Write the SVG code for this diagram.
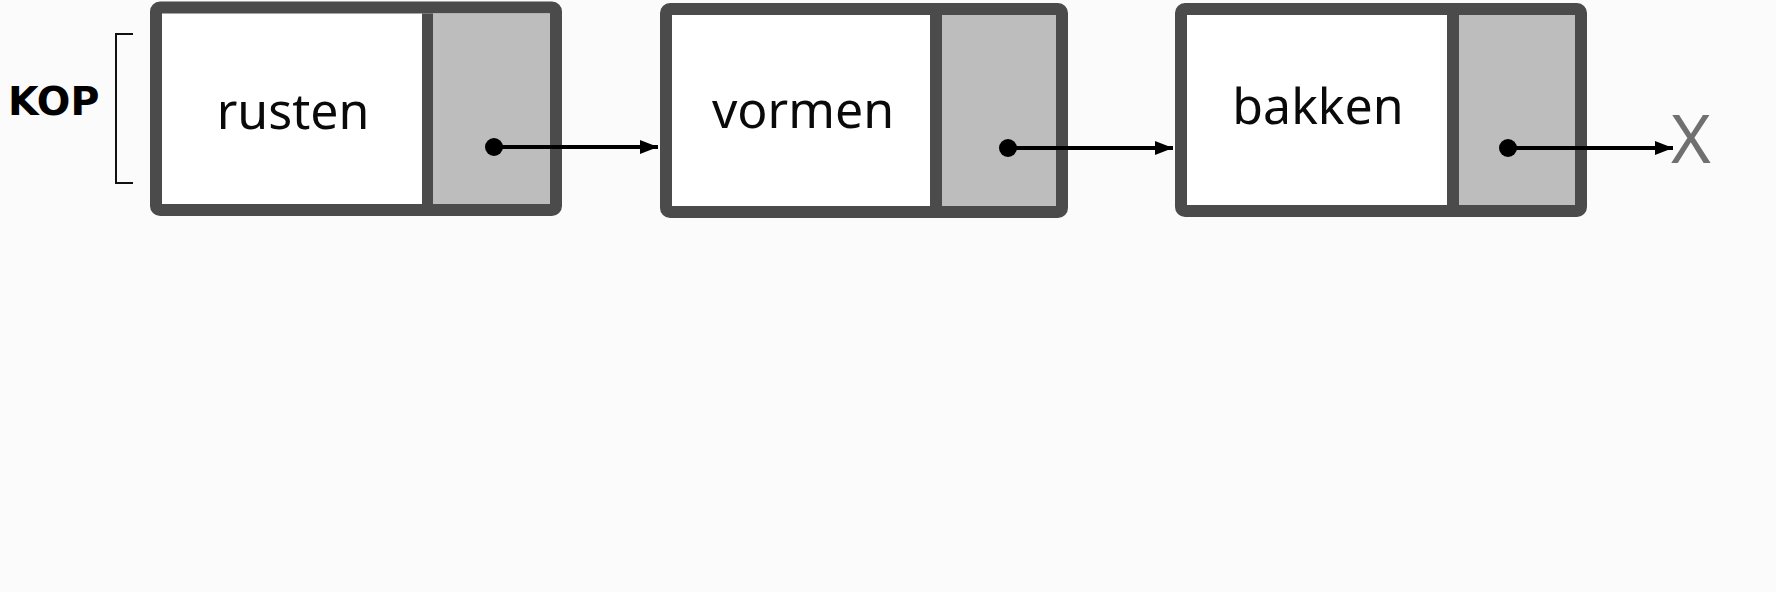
<svg xmlns="http://www.w3.org/2000/svg" width="1776" height="592" viewBox="0 0 1776 592">
<defs>
<style>
.frame{fill:#ffffff;stroke:#4b4b4b;stroke-width:12}
.ptr{fill:#bdbdbd}
.div{fill:#4b4b4b}
.lbl{font-family:"Noto Sans","Open Sans",sans-serif;font-size:50px;fill:#0a0a0a;text-anchor:middle}
.kop{font-family:"DejaVu Sans","Noto Sans",sans-serif;font-weight:bold;font-size:39.5px;fill:#000}
.nil{font-family:"Noto Sans","Open Sans",sans-serif;font-size:68px;fill:#707070;text-anchor:middle}
.link{stroke:#000;stroke-width:4;fill:none;marker-end:url(#ah)}
.dot{fill:#000}
</style>
<marker id="ah" viewBox="0 0 18 14" refX="18" refY="7" markerWidth="18" markerHeight="14" markerUnits="userSpaceOnUse" orient="auto">
<path d="M0,0 L18,7 L0,14 Z" fill="#000"/>
</marker>
</defs>
<rect x="0" y="0" width="1776" height="592" fill="#fbfbfb"/>
<g id="kop">
<text class="kop" x="8" y="115">KOP</text>
<path d="M133,34 L116,34 L116,183 L133,183" fill="none" stroke="#111" stroke-width="2"/>
</g>
<g id="node1">
<rect class="frame" x="156" y="7.5" width="400" height="202.5" rx="4"/>
<rect class="ptr" x="433" y="13.5" width="117" height="190.5"/>
<rect class="div" x="422" y="13.5" width="11" height="190.5"/>
<text class="lbl" x="293" y="129">rusten</text>
</g>
<g id="node2">
<rect class="frame" x="666" y="9" width="396" height="203" rx="4"/>
<rect class="ptr" x="942" y="15" width="114" height="191"/>
<rect class="div" x="930" y="15" width="12" height="191"/>
<text class="lbl" x="803" y="128">vormen</text>
</g>
<g id="node3">
<rect class="frame" x="1181" y="9" width="400" height="202" rx="4"/>
<rect class="ptr" x="1459" y="15" width="116" height="190"/>
<rect class="div" x="1447" y="15" width="12" height="190"/>
<text class="lbl" x="1318" y="124">bakken</text>
</g>
<g id="nil">
<text class="nil" x="1691" y="163">X</text>
</g>
<g id="connectors">
<line class="link" x1="494" y1="147" x2="658" y2="147"/>
<circle class="dot" cx="494" cy="147" r="9"/>
<line class="link" x1="1008" y1="148" x2="1173" y2="148"/>
<circle class="dot" cx="1008" cy="148" r="9"/>
<line class="link" x1="1508" y1="148" x2="1673" y2="148"/>
<circle class="dot" cx="1508" cy="148" r="9"/>
</g>
</svg>
